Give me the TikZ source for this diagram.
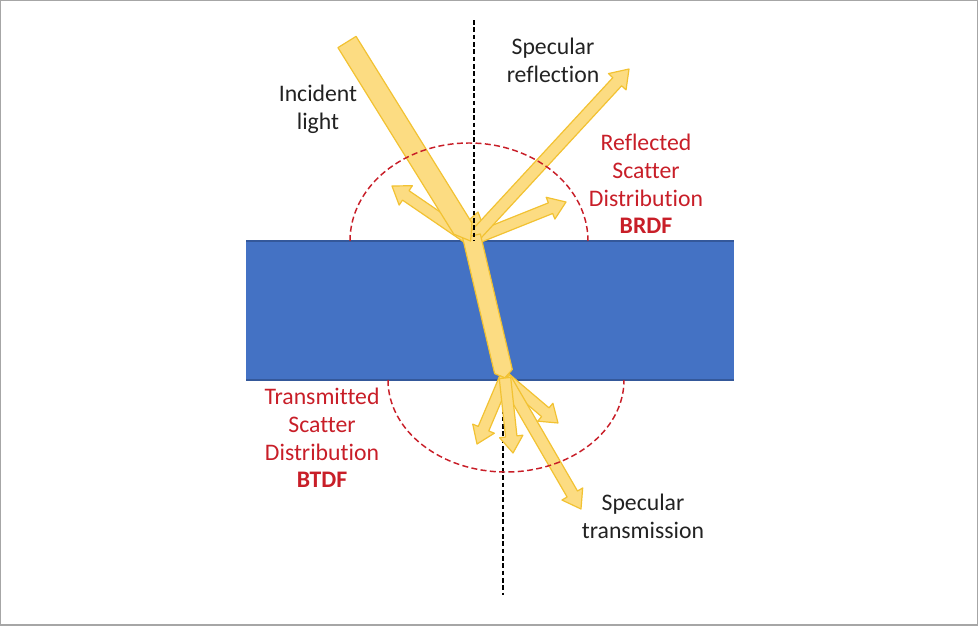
\documentclass[tikz,border=0pt]{standalone}
\usepackage{fontspec}
\setmainfont[Ligatures=NoCommon]{Carlito}
\usetikzlibrary{calc}
\definecolor{slab}{HTML}{4472C4}
\definecolor{slabedge}{HTML}{34589A}
\definecolor{beamfill}{HTML}{FCDC82}
\definecolor{beamedge}{HTML}{F2C232}
\definecolor{scatred}{RGB}{200,30,40}
\definecolor{txt}{HTML}{222222}
\definecolor{frame}{HTML}{A6A6A6}
\newcommand\barrow[5]{%
  \coordinate (hb) at ($(#2)!#5!(#1)$);
  \draw[beam] ($(#1)!#3!90:(#2)$) -- ($(hb)!#3!90:(#2)$) -- ($(hb)!#4!90:(#2)$) -- (#2)
    -- ($(hb)!#4!-90:(#2)$) -- ($(hb)!#3!-90:(#2)$) -- ($(#1)!#3!-90:(#2)$) -- cycle;}
\newcommand\beamband[4]{%
  \coordinate (tb) at ($(#2)!#4!(#1)$);
  \draw[beam] ($(#1)!#3!90:(#2)$) -- ($(tb)!#3!90:(#2)$) -- (#2)
    -- ($(tb)!#3!-90:(#2)$) -- ($(#1)!#3!-90:(#2)$) -- cycle;}
\begin{document}
\begin{tikzpicture}[x=0.75pt,y=-0.75pt,
  beam/.style={fill=beamfill,draw=beamedge,line width=0.9pt,line join=round},
  normal/.style={draw=black,line width=0.8pt,dash pattern=on 3.5pt off 2pt},
  scatter/.style={draw=scatred,line width=1.1pt,dash pattern=on 4.5pt off 2.5pt},
  lbl/.style={font=\fontsize{17.8}{20.8}\selectfont,text=txt,align=center,inner sep=0pt},
  redlbl/.style={lbl,text=scatred}]
\useasboundingbox (0,0) rectangle (978,625);
\draw[frame,line width=1.5pt] (0,0) rectangle (978,625);
% slab
\fill[slab] (246,241) rectangle (734,380);
\draw[slabedge,line width=1.2pt] (246,241) -- (734,241);
\draw[slabedge,line width=1.2pt] (246,380) -- (734,380);
% key points
\coordinate (R) at (471,240);
\coordinate (S) at (505,378);
\coordinate (topN) at (474,20);
\coordinate (botN1) at (503,380);
\coordinate (botN2) at (503,595);
\coordinate (topN2) at (474,241);
% bottom normal
\draw[normal] (botN1) -- (botN2);
% reflected arrows
\coordinate (rl) at (392,186);
\coordinate (rs) at (629,69);
\coordinate (rr) at (566,202);
\coordinate (ru) at (478,212);
\barrow{R}{ru}{2.6pt}{5.5pt}{8pt}
\barrow{R}{rl}{4.3pt}{8.8pt}{12.5pt}
\barrow{R}{rr}{4.3pt}{8.8pt}{12.5pt}
\barrow{R}{rs}{4.5pt}{9pt}{13pt}
% refracted beam
\coordinate (ra) at (471.5,236);
\beamband{ra}{S}{6.8pt}{5pt}
% incident beam
\coordinate (ia) at (347,42);
\coordinate (ib) at (470.6,241);
\beamband{ia}{ib}{8pt}{11pt}
% transmitted arrows
\coordinate (tl) at (477,444);
\coordinate (td) at (513,453);
\coordinate (tr) at (558,423);
\coordinate (ts) at (581,509);
\barrow{S}{tr}{4.3pt}{8.8pt}{12.5pt}
\barrow{S}{ts}{4.5pt}{9pt}{13pt}
\barrow{S}{tl}{4.3pt}{8.8pt}{12.5pt}
\barrow{S}{td}{4.3pt}{8.8pt}{12.5pt}
% top normal
\draw[normal] (topN) -- (topN2);
% scatter distributions
\draw[scatter] (350,241) arc[start angle=180,end angle=0,x radius=89.25pt,y radius=73.5pt];
\draw[scatter] (388,380) arc[start angle=180,end angle=360,x radius=88.5pt,y radius=69pt];
% labels
\node[lbl] (inc) at (318,109) {Incident\\light};
\node[lbl] (sref) at (553,60) {Specular\\reflection};
\node[redlbl] (brdf) at (646,184) {Reflected\\Scatter\\Distribution\\\textbf{BRDF}};
\node[redlbl] (btdf) at (322,438) {Transmitted\\Scatter\\Distribution\\\textbf{BTDF}};
\node[lbl] (stra) at (643,516) {Specular\\transmission};
\end{tikzpicture}
\end{document}
